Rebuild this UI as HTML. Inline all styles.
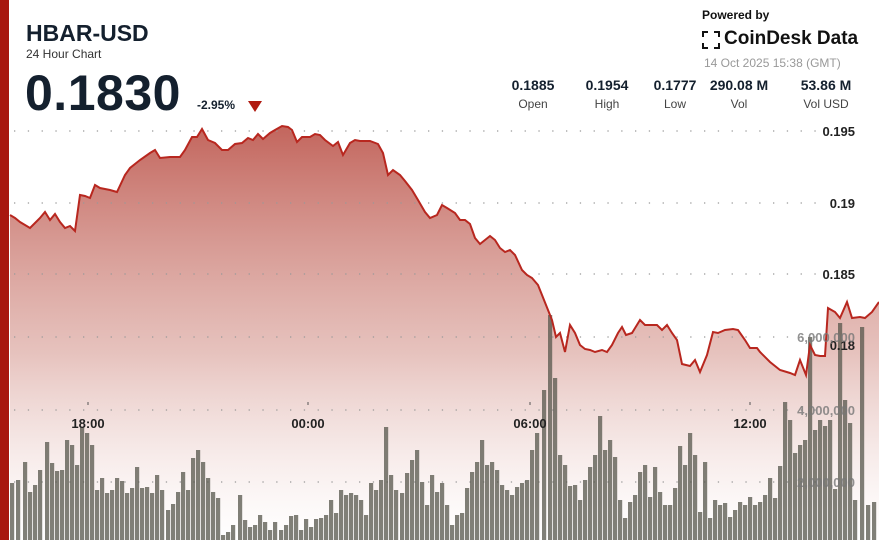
<!DOCTYPE html>
<html><head><meta charset="utf-8"><style>
body{margin:0;width:879px;height:540px;overflow:hidden;background:#fff;font-family:"Liberation Sans",sans-serif;position:relative}
.t{position:absolute;white-space:nowrap}
</style></head><body>
<div style="position:absolute;left:0;top:0;width:9px;height:540px;background:#a8170f"></div>
<svg id="c" width="879" height="540" style="position:absolute;left:0;top:0"></svg>
<div class="t" style="left:26px;top:20px;font-size:23px;font-weight:bold;color:#14202e">HBAR-USD</div>
<div class="t" style="left:26px;top:47px;font-size:12px;color:#333">24 Hour Chart</div>
<div class="t" style="left:25px;top:64px;font-size:50px;font-weight:bold;color:#14202e;letter-spacing:0.5px">0.1830</div>
<div class="t" style="left:197px;top:98px;font-size:12px;font-weight:bold;color:#14202e">-2.95%</div>
<div style="position:absolute;left:248px;top:101px;width:0;height:0;border-left:7px solid transparent;border-right:7px solid transparent;border-top:11px solid #b01a10"></div>
<div class="t" style="left:702px;top:8px;font-size:12px;font-weight:bold;color:#111">Powered by</div>
<div style="position:absolute;left:702px;top:31px;width:18px;height:18px;border:2px solid #111;box-sizing:border-box;border-style:dashed"></div>
<div class="t" style="left:724px;top:28px;font-size:19px;font-weight:bold;color:#111">CoinDesk Data</div>
<div class="t" style="left:704px;top:56px;font-size:12px;color:#999">14 Oct 2025 15:38 (GMT)</div>
<div id="st"></div>
<script>
var s=document.getElementById('c'),h='';
h+='<defs><linearGradient id="g" x1="0" y1="0" x2="0" y2="1"><stop offset="0" stop-color="#b84a40" stop-opacity="0.85"/><stop offset="0.55" stop-color="#d69a92" stop-opacity="0.6"/><stop offset="1" stop-color="#fff" stop-opacity="0.3"/></linearGradient></defs>';
var P=[10,215,15,218,20,222,25,225,30,228,35,223,40,218,45,212,50,220,55,214,60,222,65,228,70,226,75,231,80,195,85,196,90,198,95,185,100,188,110,190,117,192,125,175,130,168,140,160,150,153,155,150,160,158,170,157,180,157,185,150,192,137,197,137,202,129,208,140,215,143,222,150,228,150,235,144,242,143,248,138,253,140,258,134,263,139,270,133,275,130,282,126,288,127,292,130,297,142,302,137,310,137,315,134,320,135,325,140,333,146,338,142,343,155,350,143,355,140,360,141,370,141,378,144,383,153,388,175,393,170,400,175,405,181,412,190,418,200,425,212,430,218,437,215,442,205,447,208,455,213,460,220,465,220,470,224,475,238,480,244,485,240,490,236,495,240,500,248,505,252,510,250,515,255,522,270,527,275,532,278,538,285,542,295,548,310,552,320,556,337,560,333,565,352,570,325,575,333,580,345,585,349,590,350,595,352,602,350,607,352,612,345,618,333,622,327,626,335,632,333,640,320,645,325,650,325,657,325,662,330,667,325,672,333,677,340,682,364,690,366,695,360,700,372,707,355,713,332,718,333,725,330,733,329,738,330,745,340,750,348,757,348,760,352,770,362,780,370,790,373,795,375,800,360,806,375,810,345,815,355,820,356,825,356,828,308,835,312,840,318,847,302,852,318,860,317,865,318,872,312,879,302];
var d='M'+P[0]+','+P[1];for(var i=2;i<P.length;i+=2)d+=' L'+P[i]+','+P[i+1];
h+='<path d="'+d+' L879,540 L10,540 Z" fill="url(#g)"/>';
[131,203,274,337,410,482].forEach(function(y){h+='<line x1="14" x2="820" y1="'+y+'" y2="'+y+'" stroke="#999" stroke-width="1.3" stroke-dasharray="1.3,12.5"/>';});
var V=[12,483,18,480,25,462,30,492,35,485,40,470,47,442,52,463,57,471,62,470,67,440,72,445,77,465,82,427,87,433,92,445,97,490,102,478,107,493,112,490,117,478,122,481,127,493,132,488,137,467,142,488,147,487,152,493,157,475,162,490,168,510,173,504,178,492,183,472,188,490,193,458,198,450,203,462,208,478,213,492,218,498,223,535,228,532,233,525,240,495,245,520,250,527,255,525,260,515,265,522,270,530,275,522,281,530,286,525,291,516,296,515,301,530,306,519,311,527,316,519,321,518,326,515,331,500,336,513,341,490,346,495,351,493,356,495,361,500,366,515,371,483,376,490,381,480,386,427,391,475,396,490,402,493,407,473,412,460,417,450,422,482,427,505,432,475,437,492,442,483,447,505,452,525,457,515,462,513,467,488,472,472,477,462,482,440,487,465,492,462,497,470,502,485,507,490,512,495,517,487,522,483,527,480,532,450,537,433,544,390,550,315,555,378,560,455,565,465,570,486,575,485,580,500,585,480,590,467,595,455,600,416,605,450,610,440,615,457,620,500,625,518,630,502,635,495,640,472,645,465,650,497,655,467,660,492,665,505,670,505,675,488,680,446,685,465,690,433,695,455,700,512,705,462,710,518,715,500,720,505,725,503,730,517,735,510,740,502,745,505,750,497,755,505,760,502,765,495,770,478,775,498,780,466,785,402,790,420,795,453,800,445,805,440,810,337,815,430,820,420,825,426,830,420,835,489,840,323,845,400,850,423,855,500,862,327,868,505,874,502];
for(var i=0;i<V.length;i+=2)h+='<rect x="'+(V[i]-2)+'" y="'+V[i+1]+'" width="4.2" height="'+(540-V[i+1])+'" fill="#55554b" fill-opacity="0.75"/>';
h+='<path d="'+d+'" fill="none" stroke="#b8271f" stroke-width="2"/>';
[['0.195',136],['0.19',208],['0.185',279],['0.18',350]].forEach(function(a){h+='<text x="855" y="'+a[1]+'" text-anchor="end" font-size="13" font-weight="bold" fill="#222">'+a[0]+'</text>';});
[['6,000,000',342],['4,000,000',415],['2,000,000',487]].forEach(function(a){h+='<text x="855" y="'+a[1]+'" text-anchor="end" font-size="13" font-weight="bold" fill="#777" fill-opacity="0.8">'+a[0]+'</text>';});
[['18:00',88],['00:00',308],['06:00',530],['12:00',750]].forEach(function(a){h+='<line x1="'+a[1]+'" x2="'+a[1]+'" y1="402" y2="405" stroke="#555"/><text x="'+a[1]+'" y="428" text-anchor="middle" font-size="13" font-weight="bold" fill="#222">'+a[0]+'</text>';});
s.innerHTML=h;
var st=[['0.1885','Open',533],['0.1954','High',607],['0.1777','Low',675],['290.08 M','Vol',739],['53.86 M','Vol USD',826]],o='';
st.forEach(function(a){o+='<div class="t" style="left:'+(a[2]-50)+'px;width:100px;text-align:center;top:77px;font-size:14px;font-weight:bold;color:#14202e">'+a[0]+'</div><div class="t" style="left:'+(a[2]-50)+'px;width:100px;text-align:center;top:97px;font-size:12px;color:#444">'+a[1]+'</div>';});
document.getElementById('st').innerHTML=o;
</script>
</body></html>
